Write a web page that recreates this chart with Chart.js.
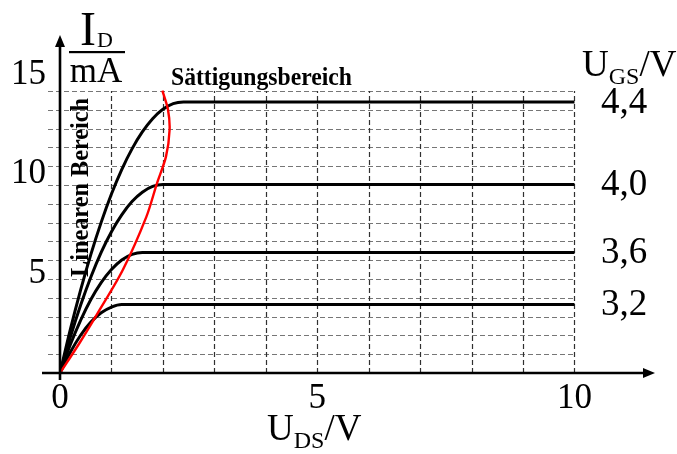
<!DOCTYPE html>
<html><head><meta charset="utf-8">
<script src="https://cdn.jsdelivr.net/npm/chart.js@4.4.1/dist/chart.umd.min.js"></script>
<style>html,body{margin:0;padding:0;background:#fff;}canvas{display:block;}</style>
</head><body>
<canvas id="c" width="677" height="454"></canvas>
<script>
// ---- data (U_DS in V, I_D in mA) ----
const uds44 = [0,0.2,0.4,0.6,0.8,1.0,1.2,1.4,1.6,1.8,2.0,2.2,2.4,10];
const id44  = [0,2.18,4.17,5.97,7.58,9.01,10.24,11.28,12.13,12.80,13.27,13.56,13.64,13.64];
const uds40 = [0,0.2,0.4,0.6,0.8,1.0,1.2,1.4,1.6,1.8,2.0,10];
const id40  = [0,1.80,3.41,4.83,6.07,7.11,7.96,8.63,9.10,9.39,9.49,9.49];
const uds36 = [0,0.2,0.4,0.6,0.8,1.0,1.2,1.4,1.6,10];
const id36  = [0,1.42,2.65,3.70,4.55,5.21,5.69,5.97,6.07,6.07];
const uds32 = [0,0.2,0.4,0.6,0.8,1.0,1.2,10];
const id32  = [0,1.04,1.90,2.56,3.03,3.32,3.45,3.45];
const redU  = [0,0.38,0.73,1.22,1.68,1.88,2.06,2.13,2.10,1.99];
const redI  = [0,1.51,3.00,5.18,7.87,9.51,10.89,12.23,13.24,14.21];
const ugsLabels = ['4,4','4,0','3,6','3,2'];
const xTickLabels = [0,5,10];
const yTickLabels = [5,10,15];

const pts = (xs, ys) => xs.map((v,i)=>({x:v, y:ys[i]}));
const curves = [[uds44,id44],[uds40,id40],[uds36,id36],[uds32,id32]];
const satLevels = curves.map(c => c[1][c[1].length-1]);

const SERIF = '"Liberation Serif", "Times New Roman", serif';
Chart.defaults.font.family = SERIF;

const GRID_STEP = 0.946; // spacing of the dashed grid in mA

const decor = {
  id: 'decor',
  beforeDatasetsDraw(chart) {
    const {ctx, scales: {x, y}} = chart;
    ctx.save();
    ctx.lineWidth = 1.2;
    ctx.setLineDash([5, 3]);
    const x10 = x.getPixelForValue(10);
    const y0 = y.getPixelForValue(0);
    const yTop = y.getPixelForValue(15 * GRID_STEP);
    ctx.strokeStyle = '#767676';
    for (let k = 1; k <= 15; k++) {
      const py = Math.round(y.getPixelForValue(k * GRID_STEP)) + 0.5;
      ctx.beginPath(); ctx.moveTo(48, py); ctx.lineTo(x10, py); ctx.stroke();
    }
    ctx.strokeStyle = '#303030';
    for (let v = 1; v <= 10; v++) {
      const px = Math.round(x.getPixelForValue(v)) + 0.5;
      ctx.beginPath(); ctx.moveTo(px, y0); ctx.lineTo(px, yTop); ctx.stroke();
    }
    ctx.restore();
  },
  afterDatasetsDraw(chart) {
    const {ctx, scales: {x, y}} = chart;
    const x0 = x.getPixelForValue(0), y0 = y.getPixelForValue(0);
    const xEnd = chart.chartArea.right, yEnd = chart.chartArea.top;
    ctx.save();
    ctx.setLineDash([]);
    ctx.strokeStyle = '#000'; ctx.fillStyle = '#000';
    ctx.lineWidth = 2.6;
    // x axis
    ctx.beginPath(); ctx.moveTo(42, y0); ctx.lineTo(xEnd - 8, y0); ctx.stroke();
    ctx.beginPath(); ctx.moveTo(xEnd, y0); ctx.lineTo(xEnd - 12, y0 - 5); ctx.lineTo(xEnd - 12, y0 + 5); ctx.closePath(); ctx.fill();
    // y axis
    ctx.beginPath(); ctx.moveTo(x0, y0 + 7); ctx.lineTo(x0, yEnd + 8); ctx.stroke();
    ctx.beginPath(); ctx.moveTo(x0, yEnd); ctx.lineTo(x0 - 5, yEnd + 12); ctx.lineTo(x0 + 5, yEnd + 12); ctx.closePath(); ctx.fill();

    ctx.textBaseline = 'alphabetic';
    ctx.textAlign = 'left';
    // I_D / mA
    ctx.font = '48px ' + SERIF; ctx.fillText('I', 80, 45);
    ctx.font = '22px ' + SERIF; ctx.fillText('D', 97, 47);
    ctx.fillRect(69, 51, 56, 2.2);
    ctx.font = '35px ' + SERIF; ctx.textAlign = 'center'; ctx.fillText('mA', 96, 82);
    ctx.textAlign = 'left';

    const unitLabel = (sub, left, base) => {
      ctx.font = '37px ' + SERIF; ctx.fillText('U', left, base);
      let w = ctx.measureText('U').width;
      ctx.font = '24px ' + SERIF; ctx.fillText(sub, left + w, base + 8);
      w += ctx.measureText(sub).width;
      ctx.font = '37px ' + SERIF; ctx.fillText('/V', left + w, base);
    };
    unitLabel('DS', 267, 440);
    unitLabel('GS', 582, 76);

    // curve labels
    ctx.font = '37px ' + SERIF; ctx.textBaseline = 'middle';
    ugsLabels.forEach((t, i) => ctx.fillText(t, 601, y.getPixelForValue(satLevels[i]) + 1));

    // region labels (condensed bold)
    ctx.textBaseline = 'alphabetic';
    ctx.font = 'bold 26px ' + SERIF;
    const s1 = 'Sättigungsbereich';
    const w1 = ctx.measureText(s1).width;
    ctx.save(); ctx.translate(171, 85); ctx.scale(181 / w1, 1); ctx.fillText(s1, 0, 0); ctx.restore();
    const s2 = 'Linearen Bereich';
    const w2 = ctx.measureText(s2).width;
    ctx.save(); ctx.translate(88, 277); ctx.rotate(-Math.PI / 2); ctx.scale(179 / w2, 1); ctx.fillText(s2, 0, 0); ctx.restore();
    ctx.restore();
  }
};

const blackSets = curves.map((c, i) => ({
  label: 'U_GS = ' + ugsLabels[i] + ' V',
  data: pts(c[0], c[1]),
  borderColor: '#000', borderWidth: 3, pointRadius: 0,
  showLine: true, cubicInterpolationMode: 'monotone', fill: false
}));

new Chart(document.getElementById('c'), {
  type: 'scatter',
  data: {
    datasets: [
      { label: 'Grenze', data: pts(redU, redI), borderColor: '#ff0000', borderWidth: 2.4,
        pointRadius: 0, showLine: true, tension: 0.3, fill: false },
      ...blackSets
    ]
  },
  options: {
    responsive: false, animation: false,
    layout: { padding: { top: 35, right: 22, left: 0, bottom: 0 } },
    plugins: { legend: { display: false }, tooltip: { enabled: false } },
    scales: {
      x: {
        type: 'linear', min: 0, max: 11.565,
        grid: { display: false, drawTicks: false }, border: { display: false },
        afterFit: s => { s.height = 81; },
        afterBuildTicks: s => { s.ticks = xTickLabels.map(v => ({ value: v })); },
        ticks: { color: '#000', font: { size: 35 }, padding: 5, maxRotation: 0, autoSkip: false }
      },
      y: {
        type: 'linear', min: 0, max: 17.01,
        grid: { display: false, drawTicks: false }, border: { display: false },
        afterFit: s => { s.width = 60; },
        afterBuildTicks: s => { s.ticks = yTickLabels.map(v => ({ value: v })); },
        ticks: { color: '#000', font: { size: 35 }, padding: 14, autoSkip: false }
      }
    }
  },
  plugins: [decor]
});
</script>
</body></html>
